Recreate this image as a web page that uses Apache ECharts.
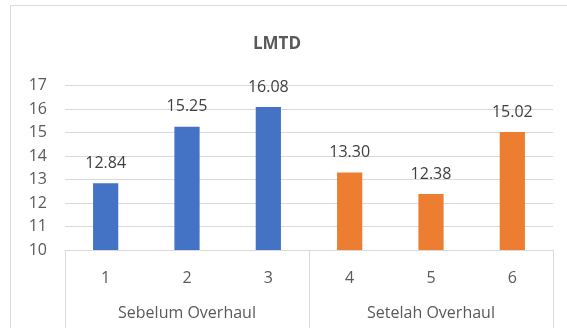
<!DOCTYPE html>
<html>
<head>
<meta charset="utf-8">
<script src="https://cdn.jsdelivr.net/npm/echarts@6/dist/echarts.min.js"></script>
<style>
  html, body { margin: 0; padding: 0; background: #fff; }
  #chart { width: 567px; height: 328px; }
</style>
</head>
<body>
<div id="chart"></div>
<script>
// LMTD per run, grouped before / after overhaul
const categories = ['1', '2', '3', '4', '5', '6'];
const lmtdValues = [12.84, 15.25, 16.08, 13.30, 12.38, 15.02];
const groupOfRun = [0, 0, 0, 1, 1, 1];
const groups = ['Sebelum Overhaul', 'Setelah Overhaul'];
const groupColors = ['#4472C4', '#ED7D31'];
const yTicks = { min: 10, max: 17, step: 1 };

const font = '"Open Sans", "Noto Sans", sans-serif';
const lineColor = '#d9d9d9';
const textColor = '#595959';

const chart = echarts.init(document.getElementById('chart'), null, { renderer: 'canvas' });

chart.setOption({
  animation: false,
  backgroundColor: '#fff',
  textStyle: { fontFamily: font },
  title: {
    text: 'LMTD',
    left: 272,
    top: 31,
    textAlign: 'center',
    textStyle: { fontFamily: font, fontSize: 17, fontWeight: 'bold', color: textColor }
  },
  graphic: [{
    type: 'rect',
    shape: { x: 10.5, y: 5.5, width: 700, height: 500 },
    style: { fill: 'none', stroke: lineColor, lineWidth: 1 },
    silent: true
  }],
  grid: { left: 65, right: 14, top: 85.5, bottom: 78 },
  xAxis: [{
    type: 'category',
    data: categories,
    position: 'bottom',
    axisLine: { show: true, lineStyle: { color: lineColor, width: 1 } },
    axisTick: { show: false },
    axisLabel: { color: textColor, fontSize: 16, margin: 20, fontFamily: font }
  }, {
    type: 'category',
    data: groups,
    position: 'bottom',
    axisLine: { show: false },
    axisTick: { show: true, length: 80, lineStyle: { color: lineColor, width: 1 } },
    axisLabel: { color: textColor, fontSize: 16, margin: 55, fontFamily: font }
  }],
  yAxis: {
    type: 'value',
    min: yTicks.min,
    max: yTicks.max,
    interval: yTicks.step,
    axisLine: { show: false },
    axisTick: { show: false },
    splitLine: { lineStyle: { color: lineColor, width: 1 } },
    axisLabel: { color: textColor, fontSize: 16, margin: 18, fontFamily: font }
  },
  series: [{
    type: 'bar',
    xAxisIndex: 0,
    barWidth: '31%',
    data: lmtdValues.map((v, i) => ({
      value: v,
      itemStyle: { color: groupColors[groupOfRun[i]] }
    })),
    label: {
      show: true,
      position: 'top',
      distance: 12,
      color: '#404040',
      fontSize: 16,
      fontFamily: font,
      formatter: p => p.value.toFixed(2)
    }
  }]
});
</script>
</body>
</html>
